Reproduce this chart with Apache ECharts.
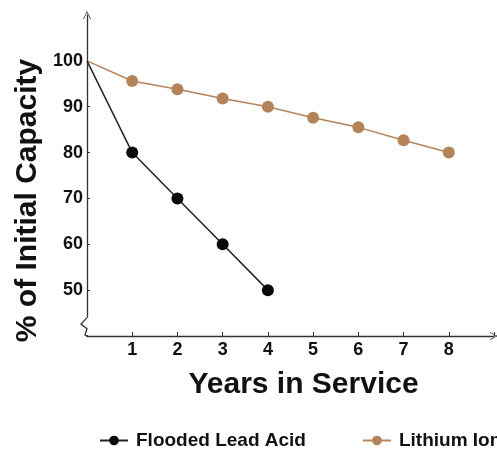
<!DOCTYPE html>
<html>
<head>
<meta charset="utf-8">
<script src="https://cdn.jsdelivr.net/npm/echarts@6/dist/echarts.min.js"></script>
<style>
html,body{margin:0;padding:0;background:#fff;}
#chart{width:497px;height:449px;}
</style>
</head>
<body>
<div id="chart"></div>
<script>
var years = [0, 1, 2, 3, 4, 5, 6, 7, 8];
var leadAcid = [100, 80, 70, 60, 50];
var lithiumIon = [100, 95.6, 93.8, 91.8, 90.0, 87.6, 85.5, 82.7, 80];
var seriesNames = ['Flooded Lead Acid', 'Lithium Ion'];
var yTickLabels = [50, 60, 70, 80, 90, 100];

var FONT = 'Liberation Sans, Arial, sans-serif';
var chart = echarts.init(document.getElementById('chart'));

function toPairs(vals) {
  return vals.map(function (v, i) {
    var item = { value: [years[i], v] };
    if (i === 0) item.symbol = 'none';
    return item;
  });
}

var option = {
  animation: false,
  backgroundColor: '#fff',
  grid: { left: 87, right: 0, top: 15, bottom: 113, containLabel: false },
  legend: {
    left: 94, top: 426, width: 700, orient: 'horizontal',
    itemWidth: 28, itemHeight: 12, itemGap: 56,
    data: seriesNames,
    textStyle: { fontFamily: FONT, fontWeight: 'bold', fontSize: 19, color: '#111', padding: [0, 0, 0, 3] }
  },
  xAxis: {
    type: 'value', min: 0, max: 9, interval: 1,
    name: 'Years in Service', nameLocation: 'middle', nameGap: 34,
    nameTextStyle: { fontFamily: FONT, fontWeight: 'bold', fontSize: 30, color: '#111', padding: [0, 0, 0, 26] },
    axisLine: { lineStyle: { color: '#333', width: 1.3 }, symbol: ['none', 'path://M0,10L5,0L10,10L9,10L5,2L1,10Z'], symbolSize: [10, 8] },
    axisTick: { inside: true, length: 4, lineStyle: { color: '#333' } },
    axisLabel: {
      fontFamily: FONT, fontWeight: 'bold', fontSize: 18, color: '#111', margin: 5,
      formatter: function (v) { return (v >= 1 && v <= 8) ? String(v) : ''; }
    },
    splitLine: { show: false }
  },
  yAxis: {
    type: 'value', min: 40, max: 110, interval: 10,
    name: '% of Initial Capacity', nameLocation: 'middle', nameGap: 44,
    nameMoveOverlap: false,
    nameTextStyle: { fontFamily: FONT, fontWeight: 'bold', fontSize: 30, color: '#111', padding: [8, 50, 0, 0] },
    axisLine: { lineStyle: { color: '#333', width: 1.3 }, symbol: ['none', 'path://M0,10L5,0L10,10L9,10L5,2L1,10Z'], symbolSize: [10, 8] },
    axisTick: {
      inside: true, length: 3, lineStyle: { color: '#333' },
      customValues: [50, 60, 70, 80, 90]
    },
    axisLabel: {
      fontFamily: FONT, fontWeight: 'bold', fontSize: 18, color: '#111', margin: 4,
      customValues: yTickLabels
    },
    splitLine: { show: false }
  },
  series: [
    {
      name: seriesNames[0], type: 'line', data: toPairs(leadAcid),
      symbol: 'circle', symbolSize: 12,
      itemStyle: { color: '#0a0a0a' },
      lineStyle: { color: '#222', width: 1.5 },
      z: 3
    },
    {
      name: seriesNames[1], type: 'line', data: toPairs(lithiumIon),
      symbol: 'circle', symbolSize: 12,
      itemStyle: { color: '#B5835A' },
      lineStyle: { color: '#B5835A', width: 1.5 },
      z: 2
    }
  ]
};
chart.setOption(option);

// axis-break zigzag decoration near the bottom of the y axis
var p0 = chart.convertToPixel({ gridIndex: 0 }, [0, 44]);
var p1 = chart.convertToPixel({ gridIndex: 0 }, [0, 40]);
var x = p0[0], yTop = p0[1], yBot = p1[1];
var h = yBot - yTop;
chart.setOption({
  graphic: [
    { type: 'rect', shape: { x: x - 2, y: yTop, width: 4, height: h - 1 }, style: { fill: '#fff' }, z: 100 },
    {
      type: 'polyline', z: 101,
      shape: { points: [[x, yTop], [x - 6, yTop + h * 0.35], [x, yTop + h * 0.6], [x - 2, yBot - 1], [x, yBot]] },
      style: { stroke: '#333', lineWidth: 1.3, fill: null }
    }
  ]
});
</script>
</body>
</html>
